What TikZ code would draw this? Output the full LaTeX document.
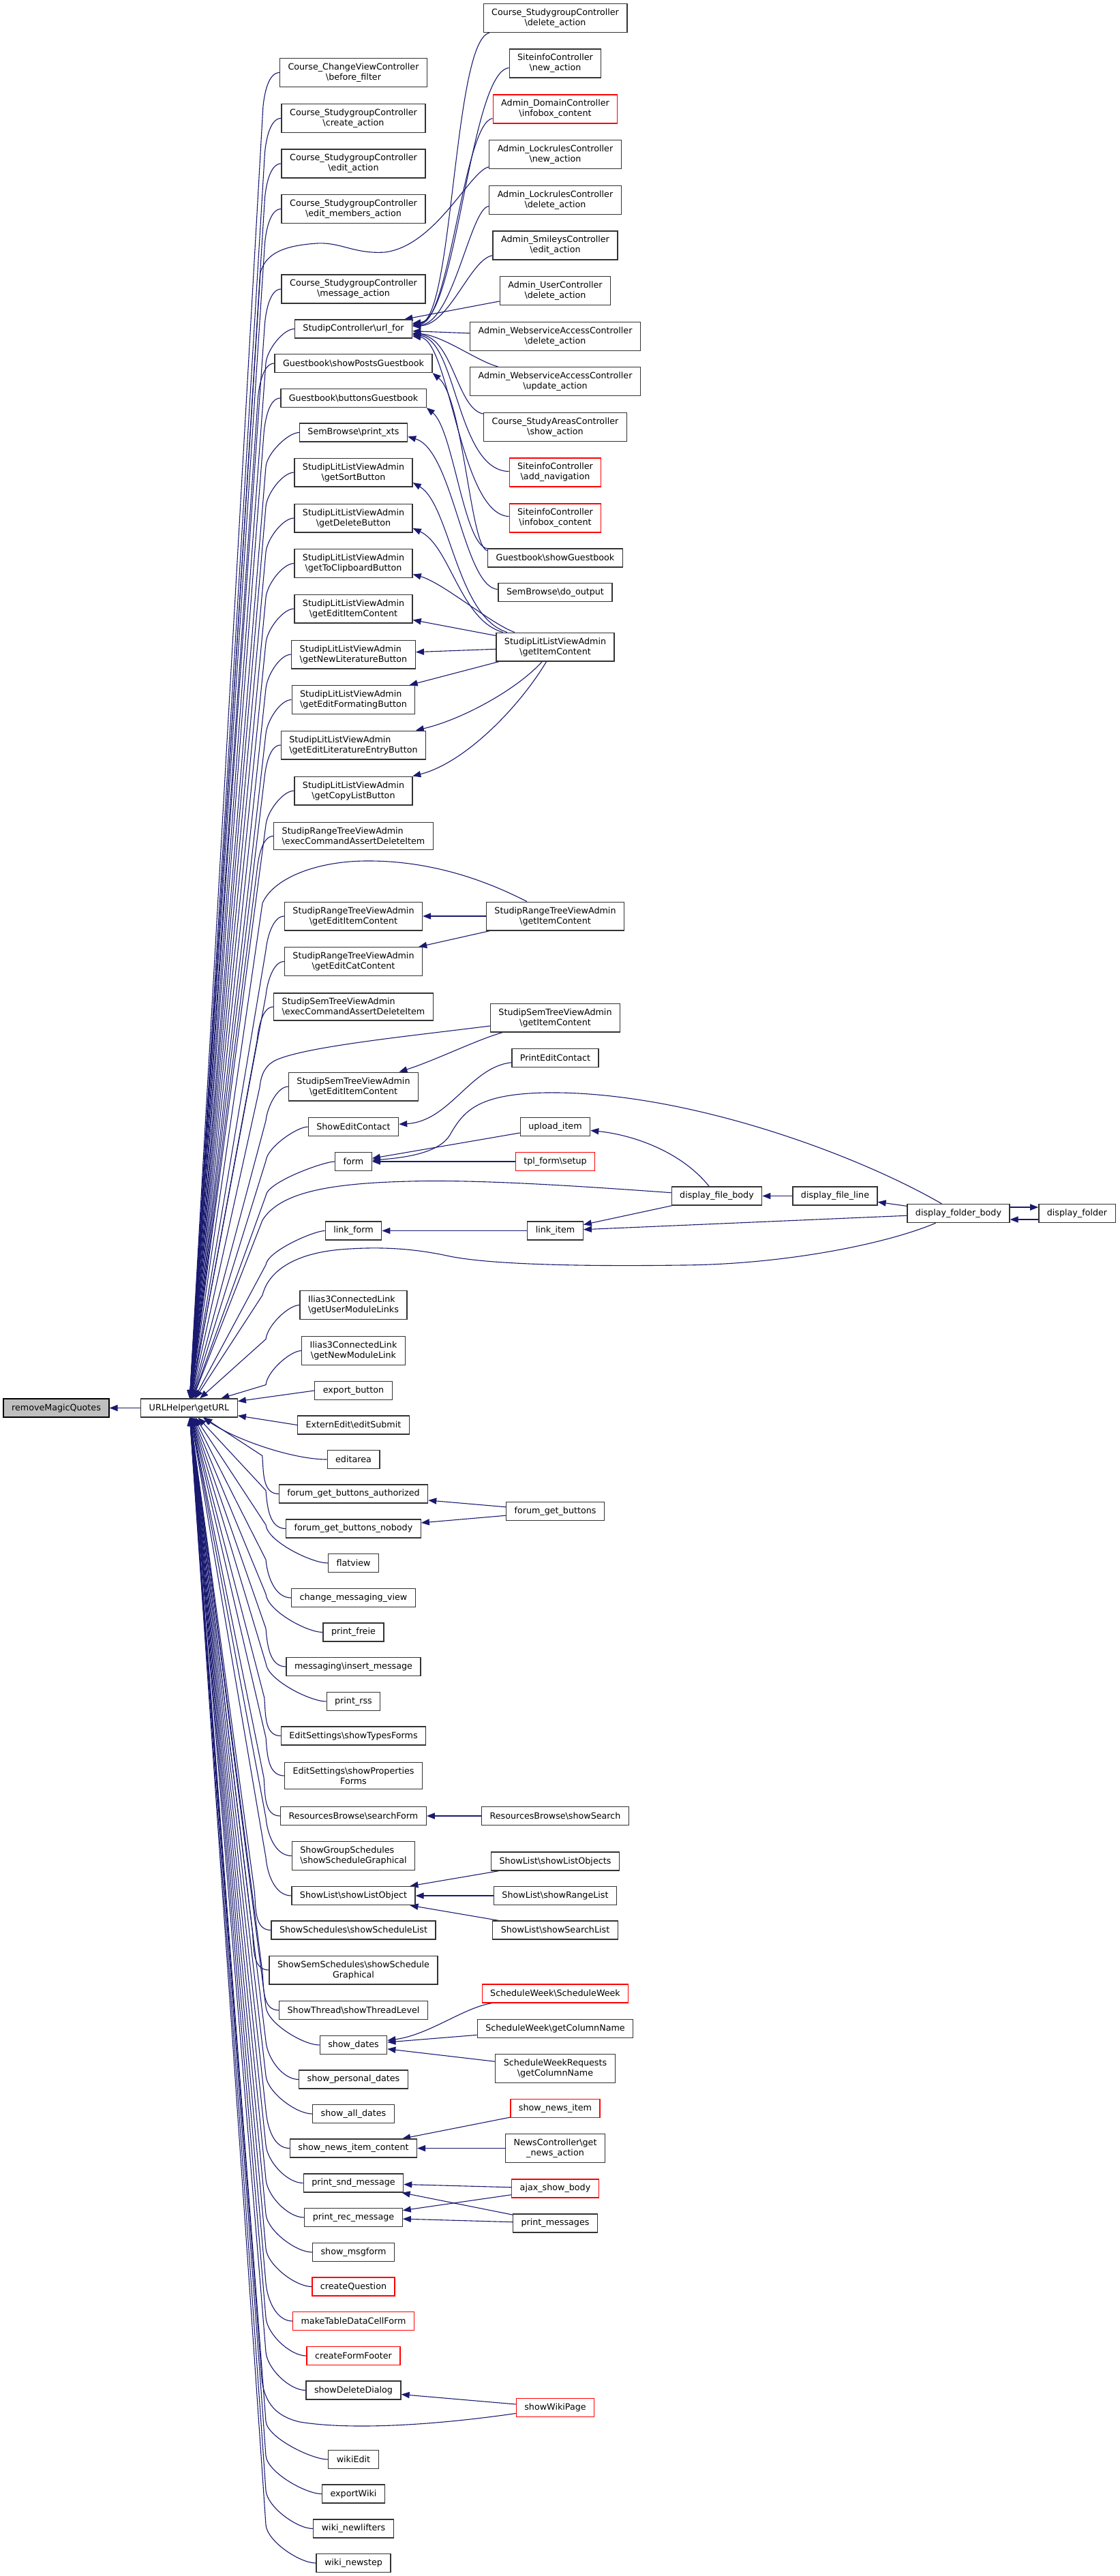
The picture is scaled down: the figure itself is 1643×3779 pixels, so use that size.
\documentclass[tikz,border=0pt]{standalone}
\usepackage{fontspec}
\setmainfont{DejaVu Sans}
\usetikzlibrary{arrows.meta,calc}
\definecolor{mblue}{RGB}{25,25,112}
\definecolor{boxgray}{RGB}{191,191,191}
\newcommand{\BSL}{\textbackslash}
\pgfdeclarelayer{bg}
\pgfsetlayers{bg,main}
\tikzset{
  nd/.style={draw=black!80, line width=0.65pt, rectangle, fill=white, inner xsep=6pt, inner ysep=3.6pt, minimum height=13.5pt, align=center, font=\fontsize{6.35pt}{7.5pt}\selectfont},
  rnd/.style={nd, draw=red},
  lnd/.style={nd, align=left},
  edge/.style={draw=mblue, line width=0.55pt, -{Triangle[length=6pt,width=4.6pt]}},
}
\begin{document}
\begin{tikzpicture}[x=0.5pt,y=-0.5pt]
\useasboundingbox (0,0) rectangle (1643,3779);
% main
\node[nd, fill=boxgray, draw=black] (rmq) at (82.5,2065.5) {removeMagicQuotes};
\node[nd] (geturl) at (277.5,2065.5) {URLHelper\BSL getURL};
% column 1
\node[nd] (c1a) at (518.5,106.5) {Course\_ChangeViewController\\\BSL before\_filter};
\node[nd] (c1b) at (518.5,173.5) {Course\_StudygroupController\\\BSL create\_action};
\node[nd] (c1c) at (518.5,240) {Course\_StudygroupController\\\BSL edit\_action};
\node[nd] (c1d) at (518.5,306.5) {Course\_StudygroupController\\\BSL edit\_members\_action};
\node[nd] (c1e) at (518.5,424) {Course\_StudygroupController\\\BSL message\_action};
\node[nd] (urlfor) at (518.5,482.5) {StudipController\BSL url\_for};
\node[nd] (gbposts) at (518.5,533) {Guestbook\BSL showPostsGuestbook};
\node[nd] (gbbuttons) at (518.5,584) {Guestbook\BSL buttonsGuestbook};
\node[nd] (sbxts) at (518.5,634.5) {SemBrowse\BSL print\_xts};
\node[nd] (llsort) at (518.5,693) {StudipLitListViewAdmin\\\BSL getSortButton};
\node[nd] (lldel) at (518.5,760) {StudipLitListViewAdmin\\\BSL getDeleteButton};
\node[nd] (llclip) at (518.5,826.5) {StudipLitListViewAdmin\\\BSL getToClipboardButton};
\node[nd] (lledit) at (518.5,893) {StudipLitListViewAdmin\\\BSL getEditItemContent};
\node[lnd] (llnew) at (518.5,960) {StudipLitListViewAdmin\\\BSL getNewLiteratureButton};
\node[lnd] (llfmt) at (518.5,1026.5) {StudipLitListViewAdmin\\\BSL getEditFormatingButton};
\node[lnd] (llentry) at (518.5,1093) {StudipLitListViewAdmin\\\BSL getEditLiteratureEntryButton};
\node[nd] (llcopy) at (518.5,1160) {StudipLitListViewAdmin\\\BSL getCopyListButton};
\node[lnd] (rtexec) at (518.5,1226.5) {StudipRangeTreeViewAdmin\\\BSL execCommandAssertDeleteItem};
\node[nd] (rtedit) at (518.5,1344) {StudipRangeTreeViewAdmin\\\BSL getEditItemContent};
\node[nd] (rtcat) at (518.5,1410.5) {StudipRangeTreeViewAdmin\\\BSL getEditCatContent};
\node[lnd] (stexec) at (518.5,1477) {StudipSemTreeViewAdmin\\\BSL execCommandAssertDeleteItem};
\node[nd] (stedit) at (518.5,1594) {StudipSemTreeViewAdmin\\\BSL getEditItemContent};
\node[nd] (showedit) at (518.5,1653) {ShowEditContact};
\node[nd] (form) at (518.5,1704) {form};
\node[nd] (linkform) at (518.5,1805.5) {link\_form};
\node[lnd] (iluser) at (518.5,1914.5) {Ilias3ConnectedLink\\\BSL getUserModuleLinks};
\node[nd] (ilnew) at (518.5,1981.5) {Ilias3ConnectedLink\\\BSL getNewModuleLink};
\node[nd] (export) at (518.5,2040) {export\_button};
\node[nd] (extern) at (518.5,2090.5) {ExternEdit\BSL editSubmit};
\node[nd] (editarea) at (518.5,2141) {editarea};
\node[nd] (fgba) at (518.5,2191.5) {forum\_get\_buttons\_authorized};
\node[nd] (fgbn) at (518.5,2242.5) {forum\_get\_buttons\_nobody};
\node[nd] (flatview) at (518.5,2293) {flatview};
\node[nd] (cmv) at (518.5,2344) {change\_messaging\_view};
\node[nd] (pfreie) at (518.5,2394.5) {print\_freie};
\node[nd] (insmsg) at (518.5,2445) {messaging\BSL insert\_message};
\node[nd] (prss) at (518.5,2496) {print\_rss};
\node[nd] (estypes) at (518.5,2546.5) {EditSettings\BSL showTypesForms};
\node[nd] (esprop) at (518.5,2605) {EditSettings\BSL showProperties\\Forms};
\node[nd] (rbsearch) at (518.5,2664) {ResourcesBrowse\BSL searchForm};
\node[lnd] (gsched) at (518.5,2722.5) {ShowGroupSchedules\\\BSL showScheduleGraphical};
\node[nd] (slobj) at (518.5,2781) {ShowList\BSL showListObject};
\node[nd] (ssched) at (518.5,2831.5) {ShowSchedules\BSL showScheduleList};
\node[nd] (semsched) at (518.5,2890) {ShowSemSchedules\BSL showSchedule\\Graphical};
\node[nd] (thread) at (518.5,2949) {ShowThread\BSL showThreadLevel};
\node[nd] (sdates) at (518.5,3000) {show\_dates};
\node[nd] (spdates) at (518.5,3050.5) {show\_personal\_dates};
\node[nd] (sadates) at (518.5,3101) {show\_all\_dates};
\node[nd] (snic) at (518.5,3151.5) {show\_news\_item\_content};
\node[nd] (psnd) at (518.5,3202.5) {print\_snd\_message};
\node[nd] (prec) at (518.5,3253) {print\_rec\_message};
\node[nd] (msgform) at (518.5,3304) {show\_msgform};
\node[rnd] (cq) at (518.5,3354.5) {createQuestion};
\node[rnd] (mtdc) at (518.5,3405) {makeTableDataCellForm};
\node[rnd] (cff) at (518.5,3456) {createFormFooter};
\node[nd] (sdd) at (518.5,3506.5) {showDeleteDialog};
\node[nd] (wikiedit) at (518.5,3608) {wikiEdit};
\node[nd] (exportwiki) at (518.5,3658.5) {exportWiki};
\node[nd] (newlifters) at (518.5,3709.5) {wiki\_newlifters};
\node[nd] (newstep) at (518.5,3760) {wiki\_newstep};
% column 2
\node[nd] (sgdel) at (814.5,26.5) {Course\_StudygroupController\\\BSL delete\_action};
\node[nd] (sinew) at (814.5,93) {SiteinfoController\\\BSL new\_action};
\node[rnd] (domain) at (814.5,160) {Admin\_DomainController\\\BSL infobox\_content};
\node[nd] (lrnew) at (814.5,226.5) {Admin\_LockrulesController\\\BSL new\_action};
\node[nd] (lrdel) at (814.5,293.5) {Admin\_LockrulesController\\\BSL delete\_action};
\node[nd] (smiley) at (814.5,360) {Admin\_SmileysController\\\BSL edit\_action};
\node[nd] (userdel) at (814.5,426.5) {Admin\_UserController\\\BSL delete\_action};
\node[nd] (wsdel) at (814.5,493.5) {Admin\_WebserviceAccessController\\\BSL delete\_action};
\node[nd] (wsupd) at (814.5,559.5) {Admin\_WebserviceAccessController\\\BSL update\_action};
\node[nd] (studyareas) at (814.5,626.5) {Course\_StudyAreasController\\\BSL show\_action};
\node[rnd] (sinav) at (814.5,693) {SiteinfoController\\\BSL add\_navigation};
\node[rnd] (siinfo) at (814.5,760) {SiteinfoController\\\BSL infobox\_content};
\node[nd] (gbshow) at (814.5,818.5) {Guestbook\BSL showGuestbook};
\node[nd] (sbout) at (814.5,869) {SemBrowse\BSL do\_output};
\node[nd] (llitem) at (814.5,949) {StudipLitListViewAdmin\\\BSL getItemContent};
\node[nd] (rtitem) at (814.5,1344) {StudipRangeTreeViewAdmin\\\BSL getItemContent};
\node[nd] (stitem) at (814.5,1493) {StudipSemTreeViewAdmin\\\BSL getItemContent};
\node[nd] (printedit) at (814.5,1552) {PrintEditContact};
\node[nd] (upload) at (814.5,1653) {upload\_item};
\node[rnd] (tplform) at (814.5,1704) {tpl\_form\BSL setup};
\node[nd] (linkitem) at (814.5,1805.5) {link\_item};
\node[nd] (fgb) at (814.5,2217) {forum\_get\_buttons};
\node[nd] (rbshow) at (814.5,2664) {ResourcesBrowse\BSL showSearch};
\node[nd] (slobjs) at (814.5,2730.5) {ShowList\BSL showListObjects};
\node[nd] (slrange) at (814.5,2781) {ShowList\BSL showRangeList};
\node[nd] (slsearch) at (814.5,2831.5) {ShowList\BSL showSearchList};
\node[rnd] (swsw) at (814.5,2924.5) {ScheduleWeek\BSL ScheduleWeek};
\node[nd] (swcol) at (814.5,2976) {ScheduleWeek\BSL getColumnName};
\node[nd] (swrcol) at (814.5,3034.5) {ScheduleWeekRequests\\\BSL getColumnName};
\node[rnd] (newsitem) at (814.5,3093) {show\_news\_item};
\node[nd] (newsctl) at (814.5,3151.5) {NewsController\BSL get\\\_news\_action};
\node[rnd] (ajax) at (814.5,3210.5) {ajax\_show\_body};
\node[nd] (pmsgs) at (814.5,3261.5) {print\_messages};
\node[rnd] (wikipage) at (814.5,3532) {showWikiPage};
% further columns
\node[nd] (dfbody) at (1051.5,1754.5) {display\_file\_body};
\node[nd] (dfline) at (1225,1754.5) {display\_file\_line};
\node[nd] (dfolderbody) at (1406,1780) {display\_folder\_body};
\node[nd] (dfolder) at (1580,1780) {display\_folder};

\begin{pgfonlayer}{bg}
\draw[edge] (geturl) -- (rmq);
% column 1 -> getURL (callers above)
\foreach \nm in {c1a,c1b,c1c,c1d,c1e,urlfor,gbposts,gbbuttons,sbxts,llsort,lldel,llclip,lledit,llnew,llfmt,llentry,llcopy,rtexec,rtedit,rtcat,stexec,stedit,showedit,form,linkform,iluser,ilnew}{
  \draw[edge] let \p1=(\nm.west) in (\p1) .. controls +(-8pt,0pt) and +(1pt,10pt) .. ({min(\x1-12pt,195pt)},\y1-25pt) -- (geturl);
}
% column 1 -> getURL (callers below)
\foreach \nm in {fgba,fgbn,flatview,cmv,pfreie,insmsg,prss,estypes,esprop,rbsearch,gsched,slobj,ssched,semsched,thread,sdates,spdates,sadates,snic,psnd,prec,msgform,cq,mtdc,cff,sdd,wikiedit,exportwiki,newlifters,newstep}{
  \draw[edge] let \p1=(\nm.west) in (\p1) .. controls +(-12pt,0pt) and +(1pt,-12pt) .. ({min(\x1-12pt,195pt)},\y1+28pt) -- (geturl);
}
\draw[edge] (export.west) -- (geturl);
\draw[edge] (extern.west) -- (geturl);
\draw[edge] (editarea.west) .. controls +(-50,0) and (345,2112) .. (geturl);
% long edges to getURL
\draw[edge] (lrnew) .. controls (690,250) and (640,360) .. (565,370) .. controls (520,373) and (500,355) .. (465,357) .. controls (420,360) and (390,370) .. (382,400) -- (geturl);
\draw[edge] (rtitem) .. controls (700,1285) and (620,1262) .. (535,1263) .. controls (460,1264) and (400,1290) .. (385,1325) -- (geturl);
\draw[edge] (stitem) .. controls (600,1520) and (450,1535) .. (405,1555) .. controls (390,1562) and (383,1575) .. (381,1595) -- (geturl);
\draw[edge] (dfbody) .. controls (850,1740) and (700,1730) .. (600,1733) .. controls (480,1736) and (410,1750) .. (385,1790) -- (geturl);
\draw[edge] (dfolderbody) .. controls (1300,1825) and (1150,1855) .. (1000,1856) .. controls (850,1858) and (720,1855) .. (660,1843) .. controls (610,1832) and (560,1828) .. (500,1833) .. controls (440,1838) and (395,1860) .. (385,1900) -- (geturl);
\draw[edge] (wikipage) .. controls (650,3556) and (520,3566) .. (440,3553) .. controls (405,3545) and (388,3525) .. (384,3490) -- (geturl);
% callers of url_for
\draw[edge] (sgdel) .. controls (665,60) and (665,470) .. (urlfor);
\draw[edge] (sinew) .. controls (690,105) and (670,468) .. (urlfor);
\draw[edge] (domain) .. controls (680,180) and (660,472) .. (urlfor);
\draw[edge] (lrdel) .. controls (690,305) and (665,474) .. (urlfor);
\draw[edge] (smiley) .. controls (690,380) and (660,476) .. (urlfor);
\draw[edge] (userdel) -- (urlfor);
\draw[edge] (wsdel) -- (urlfor);
\draw[edge] (wsupd) .. controls (700,530) and (650,492) .. (urlfor);
\draw[edge] (studyareas) .. controls (670,600) and (665,495) .. (urlfor);
\draw[edge] (sinav) .. controls (670,690) and (670,498) .. (urlfor);
\draw[edge] (siinfo) .. controls (675,755) and (660,500) .. (urlfor);
% Guestbook / SemBrowse
\draw[edge] (gbshow) .. controls (690,805) and (680,585) .. (gbposts.south east);
\draw[edge] (gbshow) .. controls (680,800) and (665,630) .. (gbbuttons.south east);
\draw[edge] (sbout) .. controls (680,862) and (665,660) .. ($(sbxts.east)+(0,6)$);
% StudipLitListViewAdmin
\draw[edge] (llitem) .. controls (670,905) and (660,740) .. ($(llsort.east)+(0,15)$);
\draw[edge] (llitem) .. controls (675,910) and (660,800) .. ($(lldel.east)+(0,15)$);
\draw[edge] (llitem) .. controls (720,915) and (650,855) .. ($(llclip.east)+(0,16)$);
\draw[edge] (llitem) -- (lledit);
\draw[edge] (llitem) -- (llnew);
\draw[edge] (llitem) -- (llfmt);
\draw[edge] (llitem) .. controls (760,1010) and (680,1055) .. (llentry);
\draw[edge] (llitem) .. controls (760,1040) and (680,1120) .. (llcopy);
% trees
\draw[edge] (rtitem) -- (rtedit);
\draw[edge] (rtitem) -- (rtcat);
\draw[edge] (stitem) .. controls (700,1525) and (640,1555) .. (stedit);
% contacts, forms, files
\draw[edge] (printedit) .. controls (690,1565) and (660,1645) .. (showedit);
\draw[edge] (upload) -- (form);
\draw[edge] (tplform) -- (form);
\draw[edge] (dfolderbody) .. controls (1250,1690) and (1000,1600) .. (800,1603) .. controls (700,1605) and (680,1630) .. (660,1665) .. controls (645,1690) and (600,1698) .. (form);
\draw[edge] (dfbody) .. controls (1000,1690) and (930,1665) .. (upload);
\draw[edge] (dfbody) -- (linkitem);
\draw[edge] (dfolderbody) -- (linkitem);
\draw[edge] (linkitem) -- (linkform);
\draw[edge] (dfline) -- (dfbody);
\draw[edge] (dfolderbody) -- (dfline);
\draw[edge] ($(dfolderbody.east)+(0,-9)$) -- ($(dfolder.west)+(0,-9)$);
\draw[edge] ($(dfolder.west)+(0,9)$) -- ($(dfolderbody.east)+(0,9)$);
% lower part
\draw[edge] (fgb) -- (fgba);
\draw[edge] (fgb) -- (fgbn);
\draw[edge] (rbshow) -- (rbsearch);
\draw[edge] (slobjs) -- (slobj);
\draw[edge] (slrange) -- (slobj);
\draw[edge] (slsearch) -- (slobj);
\draw[edge] (swsw) .. controls (680,2945) and (630,2985) .. (sdates);
\draw[edge] (swcol) -- (sdates);
\draw[edge] (swrcol) -- (sdates);
\draw[edge] (newsitem) -- (snic);
\draw[edge] (newsctl) -- (snic);
\draw[edge] (ajax) -- (psnd);
\draw[edge] (ajax) -- (prec);
\draw[edge] (pmsgs) -- (psnd);
\draw[edge] (pmsgs) -- (prec);
\draw[edge] (wikipage) -- (sdd);
\end{pgfonlayer}
\end{tikzpicture}
\end{document}
